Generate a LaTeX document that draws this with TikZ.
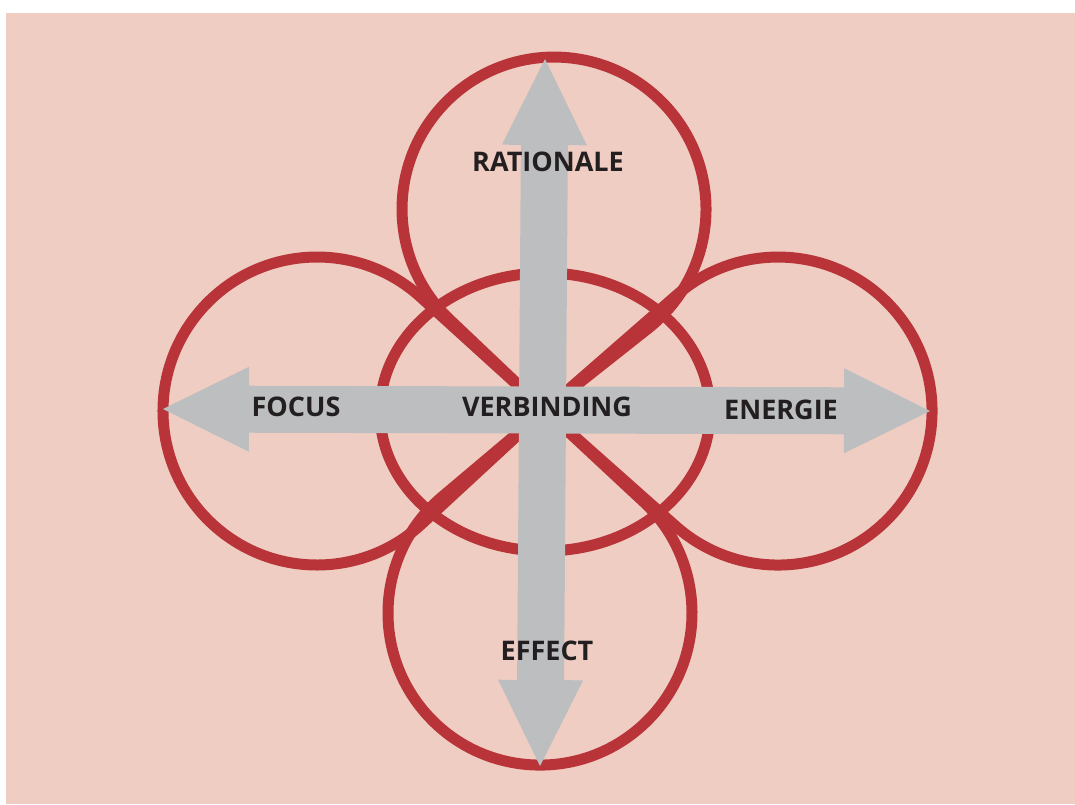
\documentclass[tikz,border=0pt]{standalone}
\usepackage{fontspec}
\setmainfont{Open Sans}
\usetikzlibrary{arrows.meta}
\definecolor{bgpink}{RGB}{239,205,195}
\definecolor{loopred}{RGB}{185,52,56}
\definecolor{bargray}{RGB}{188,190,192}
\definecolor{inkdark}{RGB}{35,31,32}

\begin{document}
\begin{tikzpicture}[x=0.5pt, y=0.5pt,
  petal/.style={draw=loopred, line width=5.5pt, line join=round},
  bar/.style={draw=bargray, line width=23.5pt,
    {Triangle[length=43pt,width=42.5pt,line width=0pt]}-{Triangle[length=43pt,width=42.5pt,line width=0pt]}},
  lbl/.style={text=inkdark, font=\bfseries\fontsize{13.5}{16}\selectfont}]
\useasboundingbox (0,0) rectangle (1075,-804);
\fill[white] (0,0) rectangle (1075,-804);
\fill[bgpink] (6,-13) rectangle (1075,-804);
\coordinate (hub) at (545,-410);
\draw[petal] (hub) -- (449.4,-319.3) arc[start angle=226.5, end angle=-51.6, radius=152] -- cycle;
\draw[petal] (hub) -- (420.5,-297.0) arc[start angle=47.76, end angle=312.74, radius=154] -- cycle;
\draw[petal] (hub) -- (676.8,-295.0) arc[start angle=131.1, end angle=-131.6, radius=154] -- cycle;
\draw[petal] (hub) -- (442.1,-496.8) arc[start angle=130.1, end angle=407.1, radius=152] -- cycle;
\draw[petal] (545,-412) ellipse [x radius=165, y radius=139];
\coordinate (west) at (163,-409);
\coordinate (east) at (930,-411);
\coordinate (north) at (545,-59);
\coordinate (south) at (540,-766);
\draw[bar] (west) -- (east);
\draw[bar] (north) -- (south);
\node[lbl] (rationale) at (548,-162) {RATIONALE};
\node[lbl] (focus) at (296,-407) {FOCUS};
\node[lbl] (verbinding) at (547,-407) {VERBINDING};
\node[lbl] (energie) at (781,-410) {ENERGIE};
\node[lbl] (effect) at (547,-651) {EFFECT};
\end{tikzpicture}
\end{document}
